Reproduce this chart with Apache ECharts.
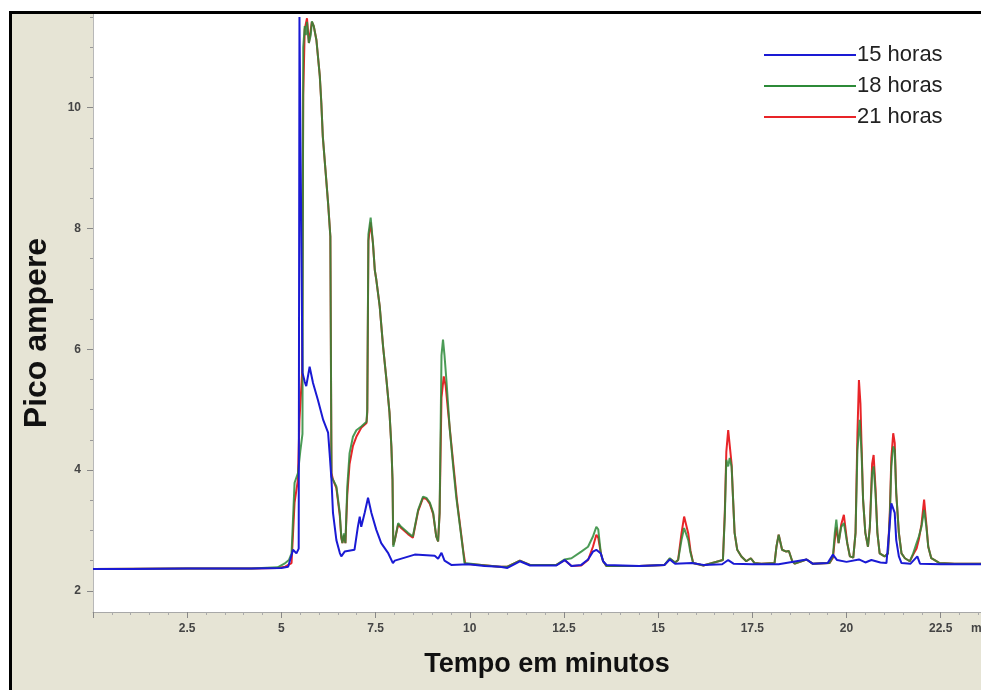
<!DOCTYPE html>
<html>
<head>
<meta charset="utf-8">
<script src="https://cdn.jsdelivr.net/npm/echarts@6/dist/echarts.min.js"></script>
<style>
  html, body { margin: 0; padding: 0; background: #ffffff; }
  #frame {
    position: absolute; left: 9px; top: 11px;
    width: 969px; height: 676px;
    border-left: 3px solid #000; border-top: 3px solid #000;
    background: #e6e4d5;
  }
  #chart { width: 969px; height: 676px; }
</style>
</head>
<body>
<div id="frame"><div id="chart"></div></div>
<script>
// ---- data (time in minutes, signal in pA) ----
const seriesNames = ['15 horas', '18 horas', '21 horas'];

const yTickLabels = [2, 4, 6, 8, 10];
const yMinorTicks = [2.5, 3, 3.5, 4.5, 5, 5.5, 6.5, 7, 7.5, 8.5, 9, 9.5, 10.5, 11, 11.5];

const blue15 = [
  [0, 2.36], [1.0, 2.36], [2.5, 2.37], [4.2, 2.37], [5.0, 2.38], [5.18, 2.40],
  [5.31, 2.68], [5.40, 2.62], [5.46, 2.70], [5.48, 11.5], [5.53, 11.5], [5.56, 5.61],
  [5.62, 5.46], [5.66, 5.39], [5.75, 5.71], [5.84, 5.44], [5.97, 5.16], [6.11, 4.83],
  [6.24, 4.62], [6.28, 4.28], [6.33, 3.84], [6.37, 3.29], [6.46, 2.84], [6.55, 2.63],
  [6.59, 2.57], [6.68, 2.65], [6.94, 2.68], [7.03, 3.06], [7.08, 3.23], [7.12, 3.06],
  [7.21, 3.29], [7.30, 3.54], [7.39, 3.29], [7.52, 3.01], [7.65, 2.79], [7.83, 2.63],
  [7.96, 2.46], [8.01, 2.50], [8.54, 2.60], [9.07, 2.58], [9.16, 2.53], [9.25, 2.63],
  [9.33, 2.50], [9.51, 2.43], [9.96, 2.44], [10.4, 2.41], [10.8, 2.40], [11.0, 2.38],
  [11.33, 2.49], [11.6, 2.42], [12.3, 2.42], [12.52, 2.51], [12.70, 2.41], [12.96, 2.43],
  [13.14, 2.52], [13.27, 2.65], [13.36, 2.68], [13.41, 2.66], [13.48, 2.62], [13.54, 2.49],
  [13.63, 2.43], [14.5, 2.41], [15.17, 2.43], [15.31, 2.52], [15.45, 2.45], [15.9, 2.46],
  [16.2, 2.43], [16.7, 2.44], [16.86, 2.51], [17.0, 2.45], [17.5, 2.44], [18.2, 2.44],
  [18.94, 2.52], [19.1, 2.45], [19.5, 2.46], [19.64, 2.60], [19.75, 2.51], [20.0, 2.48],
  [20.33, 2.52], [20.5, 2.47], [20.66, 2.51], [20.9, 2.47], [21.06, 2.46], [21.13, 2.96],
  [21.19, 3.45], [21.22, 3.45], [21.28, 3.29], [21.32, 2.84], [21.39, 2.57], [21.46, 2.46],
  [21.7, 2.45], [21.88, 2.57], [21.95, 2.45], [22.5, 2.44], [23.6, 2.44]
];

const green18 = [
  [0, 2.36], [2.5, 2.37], [4.2, 2.37], [4.9, 2.39], [5.08, 2.45], [5.20, 2.51],
  [5.27, 2.62], [5.35, 3.79], [5.44, 3.95], [5.50, 4.30], [5.56, 4.60], [5.58, 11.0],
  [5.62, 11.35], [5.65, 11.2], [5.68, 11.42], [5.73, 11.07], [5.78, 11.2], [5.81, 11.43],
  [5.86, 11.35], [5.93, 11.12], [6.02, 10.52], [6.06, 10.08], [6.10, 9.52], [6.17, 8.97],
  [6.24, 8.42], [6.30, 7.87], [6.33, 3.89], [6.37, 3.84], [6.46, 3.73], [6.55, 3.29],
  [6.59, 2.90], [6.62, 2.79], [6.66, 2.95], [6.70, 2.79], [6.75, 3.73], [6.81, 4.28],
  [6.90, 4.55], [6.99, 4.66], [7.12, 4.72], [7.26, 4.80], [7.28, 5.00], [7.31, 7.90],
  [7.37, 8.18], [7.43, 7.76], [7.48, 7.31], [7.52, 7.15], [7.61, 6.71], [7.70, 6.04],
  [7.79, 5.49], [7.87, 4.95], [7.92, 4.39], [7.95, 3.84], [7.97, 2.73], [8.01, 2.84],
  [8.10, 3.12], [8.18, 3.06], [8.36, 2.96], [8.49, 2.90], [8.63, 3.34], [8.76, 3.56],
  [8.85, 3.54], [8.94, 3.46], [9.03, 3.29], [9.11, 2.90], [9.16, 2.82], [9.20, 3.29],
  [9.25, 5.90], [9.29, 6.16], [9.33, 5.90], [9.38, 5.49], [9.47, 4.67], [9.56, 4.06],
  [9.64, 3.56], [9.73, 3.12], [9.82, 2.68], [9.86, 2.46], [10.31, 2.43], [10.8, 2.40],
  [11.0, 2.40], [11.33, 2.50], [11.6, 2.43], [12.3, 2.43], [12.52, 2.52], [12.70, 2.54],
  [12.96, 2.65], [13.14, 2.73], [13.27, 2.90], [13.36, 3.06], [13.41, 3.02], [13.48, 2.62],
  [13.54, 2.49], [13.63, 2.41], [14.5, 2.41], [15.17, 2.43], [15.31, 2.54], [15.45, 2.47],
  [15.53, 2.51], [15.62, 2.84], [15.69, 3.04], [15.80, 2.84], [15.86, 2.63], [15.93, 2.46],
  [16.2, 2.42], [16.72, 2.51], [16.77, 3.23], [16.81, 4.17], [16.86, 4.06], [16.90, 4.20],
  [16.95, 4.06], [16.99, 3.51], [17.03, 2.96], [17.10, 2.68], [17.21, 2.57], [17.34, 2.49],
  [17.46, 2.54], [17.56, 2.46], [17.74, 2.45], [18.09, 2.46], [18.14, 2.73], [18.20, 2.93],
  [18.29, 2.68], [18.40, 2.65], [18.47, 2.66], [18.56, 2.49], [18.63, 2.45], [18.94, 2.52],
  [19.1, 2.45], [19.55, 2.46], [19.64, 2.57], [19.69, 2.96], [19.73, 3.18], [19.79, 2.79],
  [19.86, 3.06], [19.93, 3.12], [20.02, 2.79], [20.09, 2.57], [20.18, 2.55], [20.24, 2.96],
  [20.29, 4.33], [20.35, 4.83], [20.40, 4.28], [20.44, 3.51], [20.50, 2.96], [20.57, 2.73],
  [20.62, 3.06], [20.68, 3.95], [20.72, 4.06], [20.77, 3.62], [20.82, 2.96], [20.88, 2.62],
  [21.01, 2.57], [21.10, 2.62], [21.15, 3.23], [21.19, 4.06], [21.24, 4.39], [21.28, 4.33],
  [21.32, 3.62], [21.39, 2.96], [21.46, 2.62], [21.55, 2.54], [21.68, 2.49], [21.77, 2.62],
  [21.86, 2.79], [21.92, 2.90], [21.99, 3.06], [22.06, 3.34], [22.12, 3.06], [22.17, 2.73],
  [22.25, 2.54], [22.34, 2.51], [22.47, 2.46], [22.87, 2.45], [23.6, 2.45]
];

const red21 = [
  [0, 2.36], [2.5, 2.37], [4.2, 2.37], [4.9, 2.38], [5.10, 2.40], [5.27, 2.46],
  [5.35, 3.46], [5.44, 3.84], [5.48, 4.83], [5.55, 5.60], [5.58, 10.2], [5.62, 11.3],
  [5.68, 11.48], [5.73, 11.07], [5.81, 11.42], [5.86, 11.35], [5.93, 11.12], [6.02, 10.52],
  [6.06, 10.08], [6.10, 9.52], [6.17, 8.97], [6.24, 8.42], [6.30, 7.87], [6.33, 3.95],
  [6.37, 3.84], [6.46, 3.70], [6.55, 3.25], [6.59, 2.88], [6.62, 2.79], [6.66, 2.92],
  [6.70, 2.79], [6.75, 3.60], [6.81, 4.10], [6.90, 4.40], [6.99, 4.55], [7.12, 4.70],
  [7.26, 4.78], [7.28, 4.95], [7.31, 7.80], [7.37, 8.10], [7.43, 7.76], [7.48, 7.31],
  [7.52, 7.15], [7.61, 6.71], [7.70, 6.04], [7.79, 5.49], [7.87, 4.95], [7.92, 4.39],
  [7.95, 3.84], [7.97, 2.76], [8.01, 2.84], [8.10, 3.10], [8.18, 3.04], [8.36, 2.94],
  [8.49, 2.88], [8.63, 3.32], [8.76, 3.54], [8.85, 3.52], [8.94, 3.44], [9.03, 3.27],
  [9.11, 2.90], [9.16, 2.82], [9.20, 3.29], [9.25, 5.20], [9.31, 5.55], [9.36, 5.40],
  [9.42, 5.00], [9.50, 4.50], [9.58, 4.00], [9.66, 3.50], [9.75, 3.05], [9.83, 2.65],
  [9.88, 2.45], [10.31, 2.43], [10.8, 2.40], [11.0, 2.40], [11.33, 2.50], [11.6, 2.43],
  [12.3, 2.43], [12.52, 2.51], [12.70, 2.41], [12.96, 2.42], [13.14, 2.51], [13.27, 2.73],
  [13.36, 2.93], [13.41, 2.88], [13.48, 2.62], [13.54, 2.49], [13.63, 2.41], [14.5, 2.41],
  [15.17, 2.43], [15.31, 2.53], [15.45, 2.47], [15.53, 2.51], [15.62, 2.95], [15.69, 3.23],
  [15.80, 2.95], [15.86, 2.66], [15.93, 2.46], [16.2, 2.42], [16.72, 2.51], [16.77, 3.30],
  [16.81, 4.30], [16.86, 4.66], [16.90, 4.63], [16.95, 4.10], [16.99, 3.51], [17.03, 2.96],
  [17.10, 2.68], [17.21, 2.57], [17.34, 2.49], [17.46, 2.54], [17.56, 2.46], [17.74, 2.45],
  [18.09, 2.46], [18.14, 2.73], [18.20, 2.93], [18.29, 2.68], [18.40, 2.65], [18.47, 2.66],
  [18.56, 2.49], [18.63, 2.45], [18.94, 2.52], [19.1, 2.45], [19.55, 2.46], [19.64, 2.55],
  [19.69, 2.85], [19.73, 3.05], [19.79, 2.79], [19.86, 3.10], [19.93, 3.26], [20.02, 2.79],
  [20.09, 2.57], [20.18, 2.55], [20.24, 2.96], [20.29, 4.60], [20.33, 5.49], [20.37, 5.10],
  [20.40, 4.40], [20.44, 3.51], [20.50, 2.96], [20.57, 2.73], [20.62, 3.06], [20.68, 4.10],
  [20.72, 4.25], [20.77, 3.70], [20.82, 2.96], [20.88, 2.62], [21.01, 2.57], [21.10, 2.62],
  [21.15, 3.30], [21.19, 4.20], [21.24, 4.61], [21.28, 4.45], [21.32, 3.62], [21.39, 2.96],
  [21.46, 2.62], [21.55, 2.54], [21.68, 2.49], [21.77, 2.60], [21.86, 2.70], [21.92, 2.85],
  [21.99, 3.10], [22.06, 3.51], [22.12, 3.10], [22.17, 2.73], [22.25, 2.54], [22.34, 2.51],
  [22.47, 2.46], [22.87, 2.45], [23.6, 2.45]
];

const colors = { blue: '#1a1ad4', green: '#2c8a38', red: '#e82428' };

const chart = echarts.init(document.getElementById('chart'), null, { renderer: 'canvas' });

const labelFont = { fontFamily: 'Arial, "Liberation Sans", sans-serif', fontSize: 12, fontWeight: 'bold', color: '#444444' };

chart.setOption({
  animation: false,
  backgroundColor: 'transparent',
  grid: {
    left: 81, top: 0, right: 0, bottom: 78,
    show: true, backgroundColor: '#ffffff', borderWidth: 0,
    containLabel: false
  },
  legend: {
    orient: 'vertical',
    left: 747, top: 21,
    itemWidth: 92, itemHeight: 2, itemGap: 1,
    icon: 'rect',
    data: seriesNames,
    textStyle: { fontFamily: 'Arial, "Liberation Sans", sans-serif', fontSize: 22, color: '#222222', lineHeight: 30, padding: [0, 0, 0, -4] }
  },
  xAxis: {
    type: 'value',
    min: 0, max: 23.57, interval: 2.5,
    name: 'Tempo em minutos',
    nameLocation: 'middle',
    nameGap: 39,
    nameTextStyle: { fontFamily: 'Arial, "Liberation Sans", sans-serif', fontWeight: 'bold', fontSize: 27, color: '#111111', padding: [0, 0, 0, 20] },
    axisLine: { show: true, lineStyle: { color: '#a8a8a8', width: 1 } },
    axisTick: { show: true, length: 6, lineStyle: { color: '#888888' } },
    minorTick: { show: true, splitNumber: 5, length: 3, lineStyle: { color: '#aaaaaa' } },
    axisLabel: Object.assign({ margin: 11, showMinLabel: false, showMaxLabel: false }, labelFont),
    splitLine: { show: false }
  },
  yAxis: [
    {
      type: 'value',
      position: 'left',
      min: 1.65, max: 11.55,
      name: 'Pico ampere',
      nameLocation: 'middle',
      nameGap: 40,
      nameTextStyle: { fontFamily: 'Arial, "Liberation Sans", sans-serif', fontWeight: 'bold', fontSize: 32, color: '#111111', padding: [0, 40, 0, 0] },
      axisLine: { show: true, lineStyle: { color: '#b8b8b8', width: 1 } },
      axisTick: { show: true, length: 6, customValues: yTickLabels, lineStyle: { color: '#888888' } },
      axisLabel: Object.assign({ margin: 12, customValues: yTickLabels }, labelFont),
      splitLine: { show: false }
    },
    {
      type: 'value',
      position: 'left',
      offset: 0,
      min: 1.65, max: 11.55,
      axisLine: { show: false },
      axisTick: { show: true, length: 3, customValues: yMinorTicks, lineStyle: { color: '#999999' } },
      axisLabel: { show: false, customValues: yMinorTicks },
      splitLine: { show: false }
    }
  ],
  graphic: [
    { type: 'text', left: 959, top: 609, style: { text: 'min', font: 'bold 12px Arial, "Liberation Sans", sans-serif', fill: '#444444' } }
  ],
  series: [
    { name: seriesNames[2], type: 'line', data: red21, symbol: 'none', z: 2,
      lineStyle: { color: colors.red, width: 2 }, itemStyle: { color: colors.red } },
    { name: seriesNames[1], type: 'line', data: green18, symbol: 'none', z: 3,
      lineStyle: { color: colors.green, width: 2, opacity: 0.85 }, itemStyle: { color: colors.green } },
    { name: seriesNames[0], type: 'line', data: blue15, symbol: 'none', z: 4,
      lineStyle: { color: colors.blue, width: 2 }, itemStyle: { color: colors.blue } }
  ]
});
</script>
</body>
</html>
